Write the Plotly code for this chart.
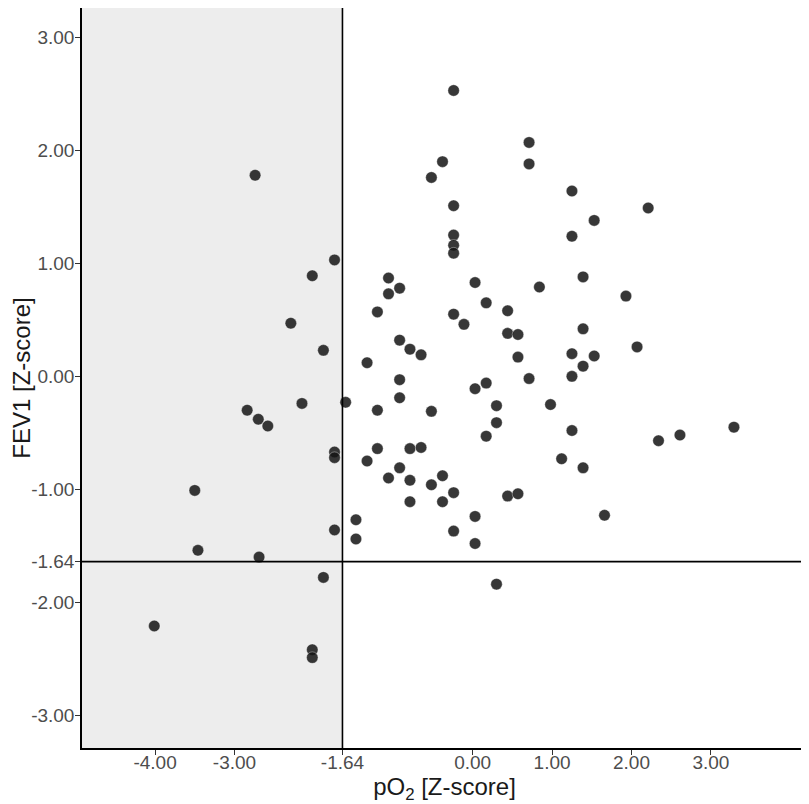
import plotly.graph_objects as go

po2_z = [-2.74, -1.74, -2.02, -2.29, -1.88, -2.15, -1.60, -2.84, -2.70, -2.58,
         -1.74, -1.74, -3.50, -1.74, -3.46, -2.69, -1.88, -4.01, -2.02, -2.02,
         -1.47, -1.47, -0.24, 0.71, 0.71, -0.38, -0.52, 1.25, 2.21, 1.53,
         -0.24, 1.25, -0.24, -0.24, -0.24, 1.39, 0.03, -1.06, -0.92, -1.06,
         0.17, 0.44, -1.20, -0.24, -0.11, 0.44, 0.57, -0.92, -0.79, -0.65,
         0.57, -1.33, -0.92, 0.17, 0.03, -0.92, -1.20, -0.52, 0.30, 0.30,
         0.17, -1.20, -1.33, -0.79, -0.65, -0.92, -1.06, -0.79, -0.38, -0.52,
         -0.24, -0.38, -0.79, 0.44, 0.57, 0.03, -0.24, 0.03, 0.30, 0.84,
         1.93, 1.39, 2.07, 1.25, 1.53, 1.39, 0.71, 1.25, 0.98, 1.25,
         3.29, 2.61, 2.34, 1.12, 1.39, 1.66]
fev1_z = [1.78, 1.03, 0.89, 0.47, 0.23, -0.24, -0.23, -0.30, -0.38, -0.44,
          -0.67, -0.72, -1.01, -1.36, -1.54, -1.60, -1.78, -2.21, -2.42, -2.49,
          -1.27, -1.44, 2.53, 2.07, 1.88, 1.90, 1.76, 1.64, 1.49, 1.38,
          1.51, 1.24, 1.25, 1.16, 1.09, 0.88, 0.83, 0.87, 0.78, 0.73,
          0.65, 0.58, 0.57, 0.55, 0.46, 0.38, 0.37, 0.32, 0.24, 0.19,
          0.17, 0.12, -0.03, -0.06, -0.11, -0.19, -0.30, -0.31, -0.26, -0.41,
          -0.53, -0.64, -0.75, -0.64, -0.63, -0.81, -0.90, -0.92, -0.88, -0.96,
          -1.03, -1.11, -1.11, -1.06, -1.04, -1.24, -1.37, -1.48, -1.84, 0.79,
          0.71, 0.42, 0.26, 0.20, 0.18, 0.09, -0.02, 0.00, -0.25, -0.48,
          -0.45, -0.52, -0.57, -0.73, -0.81, -1.23]

x_ticks = [-4.00, -3.00, -1.64, 0.00, 1.00, 2.00, 3.00]
y_ticks = [3.00, 2.00, 1.00, 0.00, -1.00, -1.64, -2.00, -3.00]
cutoff = -1.64
x_range = [-4.92, 4.21]
y_range = [-3.29, 3.26]

fig = go.Figure()
fig.add_trace(go.Scatter(
    x=po2_z, y=fev1_z, mode="markers",
    marker=dict(size=11.5, color="rgba(20,20,20,0.85)",
                line=dict(width=0.6, color="rgba(255,255,255,0.6)")),
    showlegend=False, hoverinfo="x+y"))

fig.add_shape(type="rect", xref="x", yref="y", x0=x_range[0], x1=cutoff,
              y0=y_range[0], y1=y_range[1], fillcolor="#EDEDED",
              line=dict(width=0), layer="below")
fig.add_shape(type="line", xref="x", yref="y", x0=cutoff, x1=cutoff,
              y0=y_range[0], y1=y_range[1], line=dict(color="black", width=1.6))
fig.add_shape(type="line", xref="x", yref="y", x0=x_range[0], x1=x_range[1],
              y0=cutoff, y1=cutoff, line=dict(color="black", width=1.6))

font_family = "Liberation Sans, Arial, Helvetica, sans-serif"
axis_common = dict(showgrid=False, zeroline=False, showline=True,
                   linecolor="black", linewidth=1.5, ticks="outside",
                   ticklen=5, tickwidth=1.2, tickcolor="#333333",
                   tickfont=dict(size=19, color="#4D4D4D"),
                   automargin=False)
fig.update_layout(
    width=801, height=796,
    margin=dict(l=74, r=2, t=0, b=56),
    plot_bgcolor="white", paper_bgcolor="white",
    font=dict(family=font_family, color="#1A1A1A"),
    xaxis=dict(range=x_range, tickvals=x_ticks,
               ticktext=[f"{v:.2f}" for v in x_ticks],
               ticklabelstandoff=-9,
               title=dict(text="pO<sub>2</sub> [Z-score]", font=dict(size=24),
                          standoff=4),
               **axis_common),
    yaxis=dict(range=y_range, tickvals=y_ticks,
               ticktext=[f"{v:.2f}" for v in y_ticks],
               ticklabelstandoff=-3,
               title=dict(text="FEV1 [Z-score]", font=dict(size=24),
                          standoff=2),
               **axis_common),
)

fig.write_html("out.html")
